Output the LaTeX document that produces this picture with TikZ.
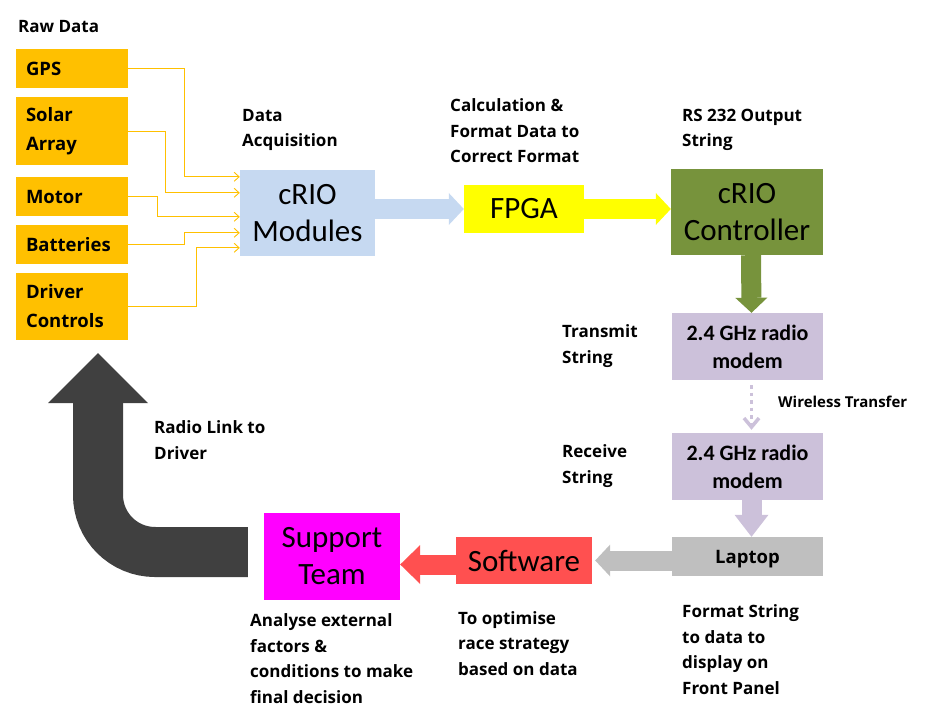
\documentclass[tikz,border=0pt]{standalone}
\usepackage{fontspec}
\newfontfamily\boxfont{Carlito}
\newfontfamily\labfont{Open Sans}
\usetikzlibrary{calc,positioning,arrows.meta}

\definecolor{rawfill}{HTML}{FFC000}
\definecolor{modfill}{HTML}{C6D9F1}
\definecolor{fpgafill}{HTML}{FFFF00}
\definecolor{ctrlfill}{HTML}{77933C}
\definecolor{modemfill}{HTML}{CCC1DA}
\definecolor{lapfill}{HTML}{BFBFBF}
\definecolor{softfill}{HTML}{FF5050}
\definecolor{supfill}{HTML}{FF00FF}
\definecolor{backfill}{HTML}{404040}

% lab nodes sit on the baseline of their last line
\tikzset{
  lab/.style={anchor=base west, align=left, inner sep=0pt,
    font=\labfont\bfseries\fontsize{17}{25.5}\selectfont},
  rawbox/.style={fill=rawfill, minimum width=112pt, text width=92pt,
    inner xsep=10pt, inner ysep=0pt, align=left,
    font=\labfont\bfseries\fontsize{18.5}{29}\selectfont},
  bigbox/.style={inner sep=0pt, align=center,
    font=\boxfont\fontsize{31}{37}\selectfont},
  modembox/.style={fill=modemfill, inner sep=0pt, align=center,
    minimum width=151pt, minimum height=67pt,
    font=\boxfont\bfseries\fontsize{22}{28}\selectfont},
  feed/.style={draw=rawfill, line width=0.9pt,
    -{Straight Barb[length=5pt,width=9pt]}},
  fat/.style={line width=20pt,
    -{Triangle[length=15pt,width=32pt,line width=0pt]}}
}

\begin{document}
\begin{tikzpicture}[x=1pt,y=-1pt]
\useasboundingbox (0,0) rectangle (938,722);

% raw data sources
\node[lab] (rawlab) at (18,33) {Raw Data};
\node[rawbox, minimum height=39pt] (gps) at (72,68.5) {GPS};
\node[rawbox, minimum height=68pt] (solar) at (72,131) {Solar\\Array};
\node[rawbox, minimum height=39pt] (motor) at (72,196.5) {Motor};
\node[rawbox, minimum height=39pt] (batt) at (72,244.5) {Batteries};
\node[rawbox, minimum height=67pt] (driver) at (72,306.5) {Driver\\Controls};

% main chain
\node[bigbox, fill=modfill, minimum width=135pt, minimum height=86pt] (mod) at (307.5,213) {cRIO\\Modules};
\node[bigbox, fill=fpgafill, minimum width=120pt, minimum height=48pt] (fpga) at (524,209) {FPGA};
\node[bigbox, fill=ctrlfill, minimum width=152pt, minimum height=86pt] (ctrl) at (747,212) {cRIO\\Controller};
\node[modembox] (tx) at (747.5,346.5) {2.4 GHz radio\\modem};
\node[modembox] (rx) at (747.5,466.5) {2.4 GHz radio\\modem};
\node[fill=lapfill, minimum width=151pt, minimum height=39pt, inner sep=0pt,
  text height=13.2pt, text depth=0pt,
  font=\labfont\bfseries\fontsize{18.5}{22}\selectfont] (laptop) at (747.5,556.5) {Laptop};
\node[bigbox, fill=softfill, minimum width=136pt, minimum height=47pt] (soft) at (524,560.5) {Software};
\node[bigbox, fill=supfill, minimum width=136pt, minimum height=87pt] (sup) at (332,556.5) {Support\\Team};

% labels
\node[lab] (acqlab) at (242,147) {Data\\Acquisition};
\node[lab] (calclab) at (450,163) {Calculation \&\\Format Data to\\Correct Format};
\node[lab] (rslab) at (682,147) {RS 232 Output\\String};
\node[lab] (txlab) at (562,363) {Transmit\\String};
\node[lab] (rxlab) at (562,483) {Receive\\String};
\node[lab, font=\labfont\bfseries\fontsize{15}{20}\selectfont] (wlab) at (778,407) {Wireless Transfer};
\node[lab] (radlab) at (154,459) {Radio Link to\\Driver};
\node[lab] (suplab) at (250,703) {Analyse external\\factors \&\\conditions to make\\final decision};
\node[lab] (softlab) at (458,675) {To optimise\\race strategy\\based on data};
\node[lab] (laplab) at (682,694) {Format String\\to data to\\display on\\Front Panel};

% feeds into the modules
\draw[feed] (gps.east) -- ++(56,0) |- ($(mod.north west)+(0,7)$);
\draw[feed] (solar.east) -- ++(37,0) |- ($(mod.north west)+(0,23)$);
\draw[feed] (motor.east) -- ++(29,0) |- ($(mod.north west)+(0,47)$);
\draw[feed] (batt.east) -- ++(56,0) |- ($(mod.north west)+(0,63)$);
\draw[feed] (driver.east) -- ++(68,0) |- ($(mod.north west)+(0,78)$);

% block arrows
\draw[fat, modfill] (mod.east |- fpga.west) -- (fpga.west);
\draw[fat, fpgafill] (fpga.east) -- (fpga.east -| ctrl.west);
\draw[fat, ctrlfill] ($(ctrl.south)+(4,0)$) -- ($(tx.north)+(4,0)$);
\draw[modemfill, line width=3.5pt, dash pattern=on 3.5pt off 4pt,
  -{Straight Barb[length=9pt,width=15pt]}] ($(tx.south)+(4,5)$) -- ($(rx.north)+(4,-3)$);
\draw[modemfill, line width=20pt, -{Triangle[length=22pt,width=34pt,line width=0pt]}]
  ($(rx.south)+(4,0)$) -- ($(laptop.north)+(4,0)$);
\draw[fat, lapfill] (laptop.west |- soft.east) -- ($(soft.east)+(3,0)$);
\draw[softfill, line width=20pt, -{Triangle[length=20pt,width=39pt,line width=0pt]}]
  ($(soft.west)+(0,4)$) -- ($(soft.west -| sup.east)+(0,4)$);

% radio link back to the driver
\coordinate (back) at ($(sup.west)+(-16,-4.5)$);
\coordinate (drvtip) at ($(driver.south)+(26,13)$);
\draw[backfill, line width=50pt, rounded corners=57pt,
  -{Triangle[length=50pt,width=100pt,line width=0pt]}] (back) -| (drvtip);
\end{tikzpicture}
\end{document}
